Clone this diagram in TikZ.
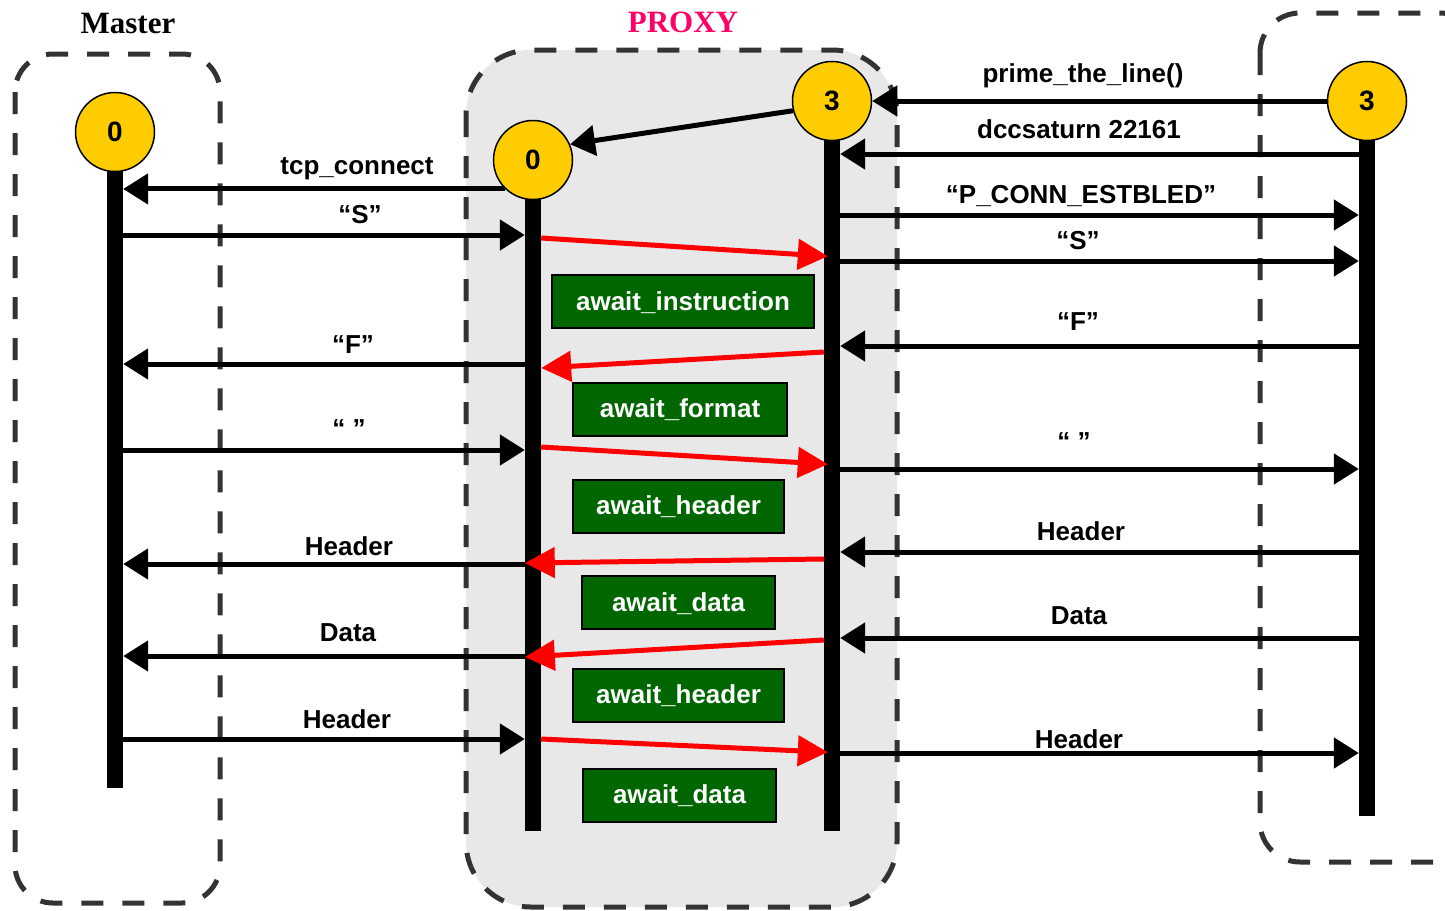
\documentclass[tikz,border=0pt]{standalone}
\usepackage{fontspec}
\setmainfont{Liberation Sans}
\newfontfamily\titlefont{Liberation Serif}
\usetikzlibrary{arrows.meta}
\definecolor{lanecol}{HTML}{333333}
\definecolor{proxyfill}{HTML}{E8E8E8}
\definecolor{statecol}{HTML}{FFCC00}
\definecolor{waitcol}{HTML}{006600}
\definecolor{titlepink}{HTML}{FF0066}
\definecolor{flowred}{HTML}{FF0000}

\begin{document}
\begin{tikzpicture}[x=1pt,y=-1pt,
  lane/.style={draw=lanecol, line width=5pt, dash pattern=on 22pt off 19pt},
  state/.style={circle, draw=black, line width=1.5pt, fill=statecol,
    minimum size=79pt, inner sep=0pt, font=\fontsize{28}{30}\selectfont\bfseries},
  life/.style={fill=black, draw=none, minimum width=16pt, inner sep=0pt, anchor=north},
  msg/.style={line width=5pt, -{Triangle[length=25pt,width=30pt]}},
  relay/.style={draw=flowred, line width=5pt, -{Triangle[length=30pt,width=30pt]}},
  lbl/.style={font=\fontsize{26}{28}\selectfont\bfseries, anchor=base, inner sep=0pt},
  waitbox/.style={draw=black, line width=2pt, fill=waitcol, text=white,
    font=\fontsize{26}{28}\selectfont\bfseries, inner sep=0pt, minimum height=53pt,
    text height=22pt, text depth=4.5pt},
  title/.style={font=\titlefont\fontsize{31}{33}\selectfont\bfseries, anchor=base, inner sep=0pt}
]
\useasboundingbox (0,0) rectangle (1445,910);
\clip (0,0) rectangle (1445,910);

% group outlines
\draw[lane, rounded corners=38pt] (15,54) rectangle (220,903);
\draw[lane, fill=proxyfill, rounded corners=65pt] (466,50) rectangle (897,907);
\draw[lane, rounded corners=40pt] (1260,13) rectangle (1480,862);

% titles
\node[title] (mastertitle) at (128,33) {Master};
\node[title, text=titlepink] (proxytitle) at (683,32) {PROXY};

% lifelines
\node[life, minimum height=656pt] (mline) at (115,132) {};
\node[life, minimum height=671pt] (p0line) at (533,160) {};
\node[life, minimum height=730pt] (p3line) at (832,101) {};
\node[life, minimum height=715pt] (rline) at (1367,101) {};

% states
\node[state] (m0) at (115,132) {0};
\node[state] (p0) at (533,160) {0};
\node[state] (p3) at (832,101) {3};
\node[state] (r3) at (1367,101) {3};

% waiting states inside the proxy
\node[waitbox, minimum width=262pt] (w1) at (683,301.5) {await\_instruction};
\node[waitbox, minimum width=214pt] (w2) at (680,409) {await\_format};
\node[waitbox, minimum width=211pt] (w3) at (678.5,506) {await\_header};
\node[waitbox, minimum width=193pt] (w4) at (678.5,602.5) {await\_data};
\node[waitbox, minimum width=211pt] (w5) at (678.5,695) {await\_header};
\node[waitbox, minimum width=193pt] (w6) at (679.5,795) {await\_data};

% master <-> proxy side 0
\draw[msg] (p0.226) -- (mline.east |- p0.226);
\node[lbl] (l1) at (357,174) {tcp\_connect};
\draw[msg] (mline.east |- 0,235) -- (p0line.west |- 0,235);
\node[lbl] (l2) at (360,223) {“S”};
\draw[msg] (p0line.west |- 0,364) -- (mline.east |- 0,364);
\node[lbl] (l3) at (353,353) {“F”};
\draw[msg] (mline.east |- 0,450) -- (p0line.west |- 0,450);
\node[lbl] (l4) at (349,437) {“ ”};
\draw[msg] (p0line.west |- 0,564) -- (mline.east |- 0,564);
\node[lbl] (l5) at (349,555) {Header};
\draw[msg] (p0line.west |- 0,656) -- (mline.east |- 0,656);
\node[lbl] (l6) at (348,641) {Data};
\draw[msg] (mline.east |- 0,739) -- (p0line.west |- 0,739);
\node[lbl] (l7) at (347,728) {Header};

% proxy side 3 <-> remote
\draw[msg] (p3.194) -- (p0.23);
\draw[msg] (r3.west) -- (p3.east);
\node[lbl] (r1) at (1083,82) {prime\_the\_line()};
\draw[msg] (rline.west |- 0,154) -- (p3line.east |- 0,154);
\node[lbl] (r2) at (1079,138) {dccsaturn 22161};
\draw[msg] (p3line.east |- 0,215) -- (rline.west |- 0,215);
\node[lbl] (r3l) at (1081,203) {“P\_CONN\_ESTBLED”};
\draw[msg] (p3line.east |- 0,261) -- (rline.west |- 0,261);
\node[lbl] (r4) at (1078,249) {“S”};
\draw[msg] (rline.west |- 0,346) -- (p3line.east |- 0,346);
\node[lbl] (r5) at (1078,330) {“F”};
\draw[msg] (p3line.east |- 0,469) -- (rline.west |- 0,469);
\node[lbl] (r6) at (1074,450) {“ ”};
\draw[msg] (rline.west |- 0,552) -- (p3line.east |- 0,552);
\node[lbl] (r7) at (1081,540) {Header};
\draw[msg] (rline.west |- 0,638) -- (p3line.east |- 0,638);
\node[lbl] (r8) at (1079,624) {Data};
\draw[msg] (p3line.east |- 0,753) -- (rline.west |- 0,753);
\node[lbl] (r9) at (1079,748) {Header};

% relays across the proxy
\draw[relay, shorten >=-4pt] (p0line.east |- 0,238) -- (p3line.west |- 0,256);
\draw[relay] (p3line.west |- 0,352) -- (p0line.east |- 0,368);
\draw[relay, shorten >=-4pt] (p0line.east |- 0,447) -- (p3line.west |- 0,464);
\draw[relay] (p3line.west |- 0,559) -- (p0line.west |- 0,563);
\draw[relay] (p3line.west |- 0,640) -- (p0line.west |- 0,657);
\draw[relay, shorten >=-4pt] (p0line.east |- 0,739) -- (p3line.west |- 0,752);
\end{tikzpicture}
\end{document}
